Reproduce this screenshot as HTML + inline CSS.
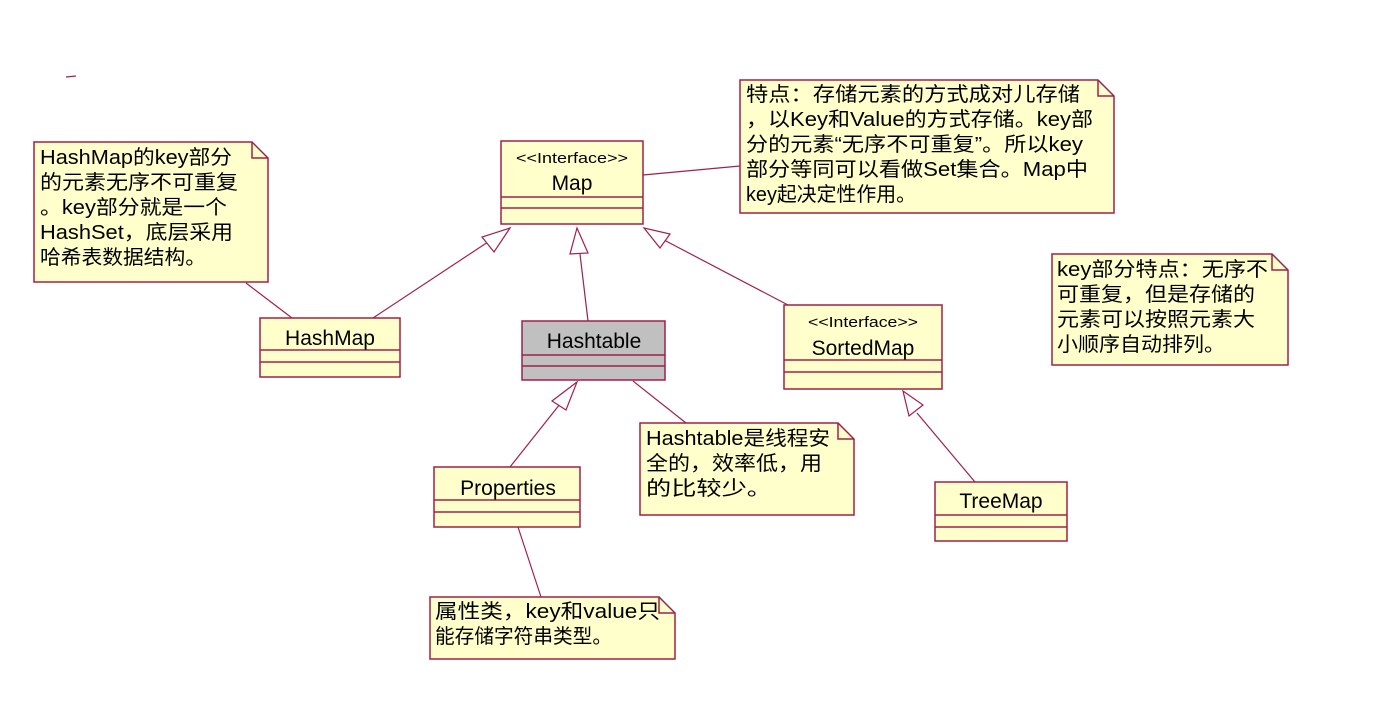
<!DOCTYPE html>
<html><head><meta charset="utf-8"><style>
html,body{margin:0;padding:0;background:#fff;width:1388px;height:725px;overflow:hidden}
svg{display:block}
text{font-family:"Liberation Sans","Noto Sans CJK SC",sans-serif;fill:#000}
.n{font-size:20px}
.c{font-size:21px}
.s{font-size:15px}
</style></head><body>
<svg width="1388" height="725" viewBox="0 0 1388 725" xmlns="http://www.w3.org/2000/svg">
<g stroke="#a0204a" stroke-width="1.2" fill="none">
<line x1="66" y1="77" x2="76" y2="76"/>
<line x1="246" y1="283" x2="292" y2="318"/>
<line x1="643" y1="175" x2="740" y2="166"/>
<line x1="633" y1="381" x2="686" y2="423"/>
<line x1="518" y1="527" x2="541" y2="597"/>
<line x1="373" y1="318" x2="494" y2="238"/>
<line x1="588" y1="321" x2="580" y2="254"/>
<line x1="788" y1="305" x2="664" y2="240"/>
<line x1="510" y1="467" x2="560" y2="404"/>
<line x1="975" y1="482" x2="917" y2="413"/>
</g>
<g stroke="#a0204a" stroke-width="1.2" fill="#fff">
<polygon points="510,228 482,237 494,252"/>
<polygon points="577,228 570,254 588,253"/>
<polygon points="644,228 660,248 670,234"/>
<polygon points="577,382 552,401 566,410"/>
<polygon points="903,391 909,416 923,405"/>
</g>
<g stroke="#a0204a" stroke-width="1.5" fill="#ffffcc">
<rect x="501" y="141" width="142" height="83"/>
<line x1="501" y1="197" x2="643" y2="197"/><line x1="501" y1="208" x2="643" y2="208"/>
<rect x="260" y="318" width="140" height="59"/>
<line x1="260" y1="350" x2="400" y2="350"/><line x1="260" y1="362" x2="400" y2="362"/>
<rect x="522" y="321" width="143" height="59" fill="#c0c0c0"/>
<line x1="522" y1="355" x2="665" y2="355"/><line x1="522" y1="366" x2="665" y2="366"/>
<rect x="784" y="305" width="158" height="84"/>
<line x1="784" y1="360" x2="942" y2="360"/><line x1="784" y1="372" x2="942" y2="372"/>
<rect x="434" y="467" width="146" height="60"/>
<line x1="434" y1="500" x2="580" y2="500"/><line x1="434" y1="512" x2="580" y2="512"/>
<rect x="935" y="482" width="132" height="59"/>
<line x1="935" y1="515" x2="1067" y2="515"/><line x1="935" y1="527" x2="1067" y2="527"/>
<path d="M740,80 H1098 L1114,96 V213 H740 Z"/><path d="M1098,80 V96 H1114" fill="none"/>
<path d="M34,142 H252 L268,158 V282 H34 Z"/><path d="M252,142 V158 H268" fill="none"/>
<path d="M1052,254 H1272 L1288,270 V365 H1052 Z"/><path d="M1272,254 V270 H1288" fill="none"/>
<path d="M640,423 H838 L854,439 V515 H640 Z"/><path d="M838,423 V439 H854" fill="none"/>
<path d="M430,597 H659 L675,613 V659 H430 Z"/><path d="M659,597 V613 H675" fill="none"/>
</g>
<text class="s" x="516" y="163" textLength="112" lengthAdjust="spacingAndGlyphs">&lt;&lt;Interface&gt;&gt;</text>
<text class="c" x="572" y="190" text-anchor="middle">Map</text>
<text class="c" x="330" y="345" text-anchor="middle">HashMap</text>
<text class="c" x="594" y="348" text-anchor="middle">Hashtable</text>
<text class="s" x="808" y="327" textLength="110" lengthAdjust="spacingAndGlyphs">&lt;&lt;Interface&gt;&gt;</text>
<text class="c" x="863" y="355" text-anchor="middle">SortedMap</text>
<text class="c" x="508" y="495" text-anchor="middle">Properties</text>
<text class="c" x="1001" y="508" text-anchor="middle">TreeMap</text>
<g class="n">
<text x="746" y="101" textLength="334" lengthAdjust="spacingAndGlyphs">特点：存储元素的方式成对儿存储</text>
<text x="746" y="126" textLength="347" lengthAdjust="spacingAndGlyphs">，以Key和Value的方式存储。key部</text>
<text x="746" y="151" textLength="337" lengthAdjust="spacingAndGlyphs">分的元素“无序不可重复”。所以key</text>
<text x="746" y="176" textLength="342" lengthAdjust="spacingAndGlyphs">部分等同可以看做Set集合。Map中</text>
<text x="746" y="201" textLength="170" lengthAdjust="spacingAndGlyphs">key起决定性作用。</text>
<text x="40" y="164" textLength="192" lengthAdjust="spacingAndGlyphs">HashMap的key部分</text>
<text x="40" y="189" textLength="198" lengthAdjust="spacingAndGlyphs">的元素无序不可重复</text>
<text x="40" y="214" textLength="187" lengthAdjust="spacingAndGlyphs">。key部分就是一个</text>
<text x="40" y="239" textLength="193" lengthAdjust="spacingAndGlyphs">HashSet，底层采用</text>
<text x="40" y="264" textLength="166" lengthAdjust="spacingAndGlyphs">哈希表数据结构。</text>
<text x="1057" y="276" textLength="211" lengthAdjust="spacingAndGlyphs">key部分特点：无序不</text>
<text x="1057" y="301" textLength="198" lengthAdjust="spacingAndGlyphs">可重复，但是存储的</text>
<text x="1057" y="326" textLength="198" lengthAdjust="spacingAndGlyphs">元素可以按照元素大</text>
<text x="1057" y="351" textLength="168" lengthAdjust="spacingAndGlyphs">小顺序自动排列。</text>
<text x="646" y="445" textLength="184" lengthAdjust="spacingAndGlyphs">Hashtable是线程安</text>
<text x="646" y="470" textLength="176" lengthAdjust="spacingAndGlyphs">全的，效率低，用</text>
<text x="646" y="495" textLength="126" lengthAdjust="spacingAndGlyphs">的比较少。</text>
<text x="435" y="618" textLength="225" lengthAdjust="spacingAndGlyphs">属性类，key和value只</text>
<text x="435" y="643" textLength="177" lengthAdjust="spacingAndGlyphs">能存储字符串类型。</text>
</g>
</svg>
</body></html>
